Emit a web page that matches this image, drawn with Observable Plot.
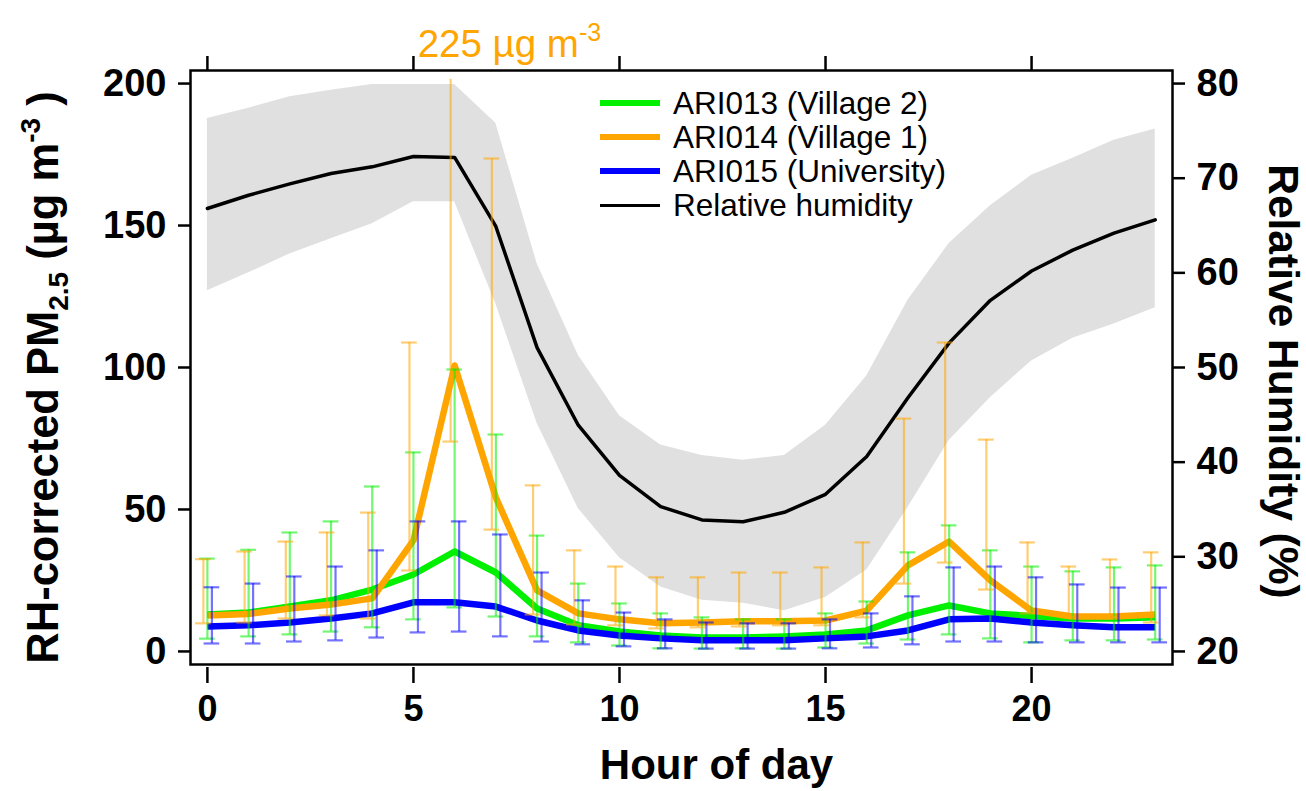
<!DOCTYPE html>
<html>
<head>
<meta charset="utf-8">
<script src="https://cdn.jsdelivr.net/npm/d3@7"></script>
<script src="https://cdn.jsdelivr.net/npm/@observablehq/plot@0.6"></script>
<style>
  html, body { margin: 0; padding: 0; background: white; }
  #wrap { position: relative; width: 1306px; height: 791px; font-family: "Liberation Sans", Arial, sans-serif; }
  #legend { position: absolute; left: 600px; top: 86px; font-size: 31.5px; color: black; }
  #legend .row { display: flex; align-items: center; height: 34px; white-space: nowrap; }
  #legend .sw { display: inline-block; width: 60px; margin-right: 13px; }
</style>
</head>
<body>
<div id="wrap"><div id="legend"></div></div>
<script>
// ---------------- data ----------------
const hours = [0,1,2,3,4,5,6,7,8,9,10,11,12,13,14,15,16,17,18,19,20,21,22,23];

// Relative humidity (%), mean and band (lower / upper)
const rhMean = [66.8,68.2,69.4,70.5,71.2,72.3,72.2,64.9,52.1,43.9,38.6,35.3,33.9,33.7,34.7,36.6,40.6,46.8,52.6,57.1,60.2,62.4,64.2,65.6];
const rhHigh = [76.3,77.4,78.6,79.3,79.9,79.9,79.9,75.8,61.0,51.3,44.9,41.8,40.7,40.2,40.7,43.9,49.1,57.1,63.1,67.1,70.3,72.1,74.0,75.2];
const rhLow  = [58.1,60.0,62.0,63.6,65.2,67.5,67.5,56.7,44.1,35.1,29.9,26.8,25.4,25.1,24.3,25.7,28.6,35.2,42.3,46.8,50.7,53.1,54.6,56.3];

// ARI013 (Village 2)
const ari013Mean = [13.0,13.7,15.8,18.0,21.8,27.1,35.2,27.8,15.1,9.2,7.0,5.6,4.9,4.9,5.3,6.0,7.4,12.7,16.2,13.4,12.5,11.6,11.6,12.0];
const ari013High = [32.7,35.8,41.9,45.8,58.1,70.1,99.3,76.4,40.8,23.9,16.9,13.4,12.0,11.3,11.3,13.4,17.6,34.9,44.4,35.6,29.9,28.2,29.6,30.3];
const ari013Low  = [4.5,5.3,6.0,7.0,8.5,11.3,15.5,12.3,5.3,3.2,2.1,1.1,1.0,1.1,1.0,1.4,2.8,4.2,6.0,4.6,3.2,3.9,3.9,4.2];

// ARI014 (Village 1)
const ari014Mean = [12.7,13.2,15.1,16.5,18.7,39.1,100.7,54.2,21.5,13.4,11.3,9.9,10.2,10.6,10.6,10.9,14.4,30.3,38.7,25.0,14.4,12.3,12.3,13.0];
const ari014High = [32.5,35.2,38.7,41.9,48.9,108.8,225,173.6,58.5,35.6,29.9,26.1,26.1,27.8,27.8,29.6,38.4,82.0,108.8,74.6,38.4,29.9,32.4,34.9];
const ari014Low  = [9.9,10.2,11.6,12.7,11.6,28.5,73.9,42.9,13.0,9.5,9.2,8.1,8.5,8.8,9.2,9.2,12.0,23.9,31.3,21.8,13.4,12.0,12.0,10.2];

// ARI015 (University)
const ari015Mean = [8.8,9.2,10.2,11.6,13.4,17.3,17.3,15.8,10.9,7.4,5.6,4.6,3.9,3.9,3.9,4.6,5.3,7.4,11.3,11.6,10.2,9.2,8.5,8.5];
const ari015High = [22.6,23.9,26.4,29.9,35.6,45.8,45.8,41.2,27.8,18.0,13.7,11.3,10.2,9.9,9.9,11.3,13.4,19.4,29.6,29.9,26.1,23.6,22.5,22.5];
const ari015Low  = [2.8,2.8,3.5,3.9,4.9,6.7,7.0,5.3,3.5,2.5,1.8,1.1,1.0,1.0,1.0,1.1,1.4,2.5,3.5,3.5,3.2,3.2,3.2,3.2];

const seriesNames  = ["ARI013 (Village 2)", "ARI014 (Village 1)", "ARI015 (University)"];
const seriesColors = ["#00f000", "#ffa500", "#0000ff"];
const rhName = "Relative humidity";

const xTicks  = [0, 5, 10, 15, 20];
const pmTicks = [0, 50, 100, 150, 200];
const rhTicks = [20, 30, 40, 50, 60, 70, 80];

// ---------------- derived tables ----------------
// right axis: RH 20–80 % shares the frame with PM 0–200
const toPM = rh => (rh - 20) / 0.3;
const fromPM = pm => 20 + pm * 0.3;
const pmVisibleMax = 201.5;
const capHalf = 0.19;

const rhRows = hours.map((h, i) => ({hour: h, mean: toPM(rhMean[i]), lo: toPM(rhLow[i]), hi: toPM(rhHigh[i])}));
const pmSets = [[ari013Mean, ari013Low, ari013High], [ari014Mean, ari014Low, ari014High], [ari015Mean, ari015Low, ari015High]];
const barOffsets = [0, -4, 4.5];
const pmRows = pmSets.map(([m, lo, hi], s) => hours.map((h, i) => ({
  hour: h, series: seriesNames[s], mean: m[i], lo: lo[i], hi: hi[i]
})));
const offScale = pmRows.flat().filter(d => d.hi > 200);

const font = "'Liberation Sans', Arial, sans-serif";

const lineMarks = pmRows.map((rows, s) => Plot.line(rows, {x: "hour", y: "mean", stroke: seriesColors[s], strokeWidth: 6.5, strokeLinejoin: "round", strokeLinecap: "butt"}));
const barMarks = pmRows.flatMap((rows, s) => [
  Plot.ruleX(rows, {x: "hour", y1: "lo", y2: d => Math.min(d.hi, pmVisibleMax), stroke: seriesColors[s], strokeOpacity: 0.55, strokeWidth: 2.2, dx: barOffsets[s]}),
  Plot.ruleY(rows, {y: "hi", x1: d => d.hour - capHalf, x2: d => d.hour + capHalf, stroke: seriesColors[s], strokeOpacity: 0.55, strokeWidth: 2.2, dx: barOffsets[s], filter: d => d.hi <= 200}),
  Plot.ruleY(rows, {y: "lo", x1: d => d.hour - capHalf, x2: d => d.hour + capHalf, stroke: seriesColors[s], strokeOpacity: 0.55, strokeWidth: 2.2, dx: barOffsets[s]})
]);

const chart = Plot.plot({
  width: 1306,
  height: 791,
  marginLeft: 190,
  marginRight: 134,
  marginTop: 70,
  marginBottom: 127,
  style: {fontFamily: font, color: "black", background: "white", overflow: "visible"},
  x: {domain: [-0.41, 23.42]},
  y: {domain: [-4.6, 204.6]},
  marks: [
    Plot.areaY(rhRows, {x: "hour", y1: "lo", y2: "hi", fill: "#e0e0e0"}),
    Plot.line(rhRows, {x: "hour", y: "mean", stroke: "black", strokeWidth: 3.5, strokeLinejoin: "round"}),
    ...lineMarks,
    ...barMarks,
    Plot.text(offScale, {x: "hour", frameAnchor: "top", text: d => `${d.hi} µg m`, dx: -37, dy: -26, textAnchor: "start", lineAnchor: "middle", fill: "#ffa500", fontSize: 38.5}),
    Plot.axisX({anchor: "bottom", ticks: xTicks, tickSize: 16, tickPadding: 12, dy: 3, fontSize: 36, fontWeight: "bold", label: null, strokeWidth: 2.5}),
    Plot.axisX({anchor: "top", ticks: xTicks, tickSize: 15, tickFormat: () => "", label: null, strokeWidth: 2.5}),
    Plot.axisY({anchor: "left", ticks: pmTicks, tickSize: 12, tickPadding: 12, fontSize: 38, fontWeight: "bold", label: null, strokeWidth: 2.5}),
    Plot.axisY({anchor: "right", ticks: rhTicks.map(toPM), tickFormat: v => String(Math.round(fromPM(v))), tickSize: 12, tickPadding: 12, fontSize: 38, fontWeight: "bold", label: null, strokeWidth: 2.5}),
    Plot.text(["Hour of day"], {frameAnchor: "bottom", dx: 35, dy: 101, fontSize: 42, fontWeight: "bold", lineAnchor: "middle", textAnchor: "middle"}),
    Plot.text(["RH-corrected PM"], {frameAnchor: "left", rotate: -90, dx: -146, dy: 10, fontSize: 43.5, fontWeight: "bold", textAnchor: "middle", lineAnchor: "middle"}),
    Plot.text(["Relative Humidity (%)"], {frameAnchor: "right", rotate: 90, dx: 110, dy: 14, fontSize: 42.5, fontWeight: "bold", textAnchor: "middle", lineAnchor: "middle"}),
    Plot.frame({stroke: "black", strokeWidth: 2.5})
  ]
});

// rich text (sub/superscripts) as real SVG tspans
function richText(svg, match, parts, fs) {
  Array.from(svg.querySelectorAll("text")).filter(t => t.textContent === match).forEach(t => {
    const base = t.textContent;
    t.textContent = "";
    let shift = 0;
    parts(base).forEach(([s, kind]) => {
      const ts = document.createElementNS("http://www.w3.org/2000/svg", "tspan");
      const target = kind === "sup" ? -0.42 * fs : kind === "sub" ? 0.22 * fs : 0;
      ts.setAttribute("dy", target - shift);
      shift = target;
      if (kind) ts.setAttribute("font-size", Math.round(0.64 * fs));
      ts.textContent = s;
      t.appendChild(ts);
    });
  });
}
richText(chart, "RH-corrected PM", base => [[base, null], ["2.5", "sub"], [" (µg m", null], ["-3", "sup"], [" )", null]], 43.5);
offScale.forEach(d => richText(chart, `${d.hi} µg m`, base => [[base, null], ["-3", "sup"]], 38.5));

document.getElementById("wrap").prepend(chart);

// legend
const legend = document.getElementById("legend");
const legendItems = seriesNames.map((n, i) => ({name: n, color: seriesColors[i], w: 6})).concat([{name: rhName, color: "black", w: 3}]);
legendItems.forEach(it => {
  const row = document.createElement("div");
  row.className = "row";
  const sw = document.createElement("span");
  sw.className = "sw";
  sw.style.height = it.w + "px";
  sw.style.background = it.color;
  const tx = document.createElement("span");
  tx.textContent = it.name;
  row.append(sw, tx);
  legend.append(row);
});
</script>
</body>
</html>
